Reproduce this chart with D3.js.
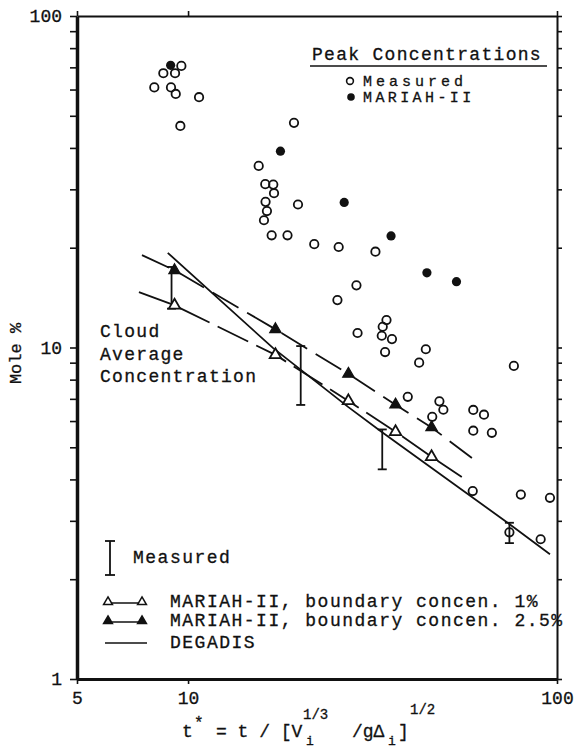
<!DOCTYPE html>
<html>
<head>
<meta charset="utf-8">
<script src="https://cdn.jsdelivr.net/npm/d3@7"></script>
<style>
  html, body { margin: 0; padding: 0; background: #fff; }
  svg { display: block; }
  .lbl { fill: #111; stroke: #111; stroke-width: 0.3;
         font-family: "Liberation Mono", "Courier New", "DejaVu Sans Mono", monospace; }
</style>
</head>
<body>
<svg id="chart" width="578" height="752"></svg>
<script>
// Peak concentrations, measured (open circles): [t*, mole %]
const measuredPeaks = [
  [9.59, 70.7], [8.57, 67.2], [9.22, 67.2], [8.10, 60.9], [8.99, 60.9],
  [9.26, 58.2], [10.71, 56.9], [9.53, 46.6], [19.37, 47.6], [15.54, 35.3],
  [16.19, 31.1], [17.02, 31.0], [17.10, 29.2], [16.22, 27.5], [16.36, 25.8],
  [16.06, 24.2], [19.86, 27.0], [16.85, 21.8], [18.6, 21.8], [21.98, 20.5],
  [25.6, 20.1], [32.2, 19.45], [28.6, 15.4], [25.4, 13.9], [34.5, 12.1],
  [33.7, 11.55], [33.5, 10.85], [35.7, 10.6], [28.8, 11.06], [34.2, 9.69],
  [44.1, 9.88], [42.3, 9.0], [39.4, 7.10], [48.0, 6.88], [49.2, 6.49],
  [45.9, 6.18], [59.3, 6.48], [63.4, 6.27], [59.3, 5.61], [66.6, 5.53],
  [59.1, 3.69], [79.8, 3.60], [95.7, 3.52], [74.3, 2.77], [90.3, 2.64],
  [76.4, 8.80]
];

// Peak concentrations, MARIAH-II (filled circles)
const mariahPeaks = [
  [8.97, 71.0], [17.8, 39.1], [26.5, 27.4], [35.5, 21.7], [44.4, 16.8], [53.4, 15.8]
];

// Cloud average concentration, MARIAH-II (triangles)
const avgT = [9.19, 17.25, 27.2, 36.5, 45.7];
const mariah1 = [13.4, 9.5, 6.9, 5.57, 4.68];     // boundary concen. 1%
const mariah25 = [17.1, 11.35, 8.32, 6.72, 5.74]; // boundary concen. 2.5%
// where the MARIAH-II curves start and stop
const mariah1Ends = [[7.36, 14.7], [55.2, 4.07]];
const mariah25Ends = [[7.5, 19.0], [58.8, 4.64]];

// DEGADIS prediction
const degadis = [
  [8.81, 19.3], [16.98, 9.97], [27.2, 6.61], [33.5, 5.56], [74.1, 2.94], [95.7, 2.38]
];

// measured cloud average (range bars)
const barT = [9.02, 20.2, 33.6, 74.3];
const barLo = [13.1, 6.71, 4.29, 2.57];
const barHi = [17.5, 10.1, 5.66, 2.96];

const xTickValues = [5, 10, 100];
const yTickValues = [1, 2, 3, 4, 5, 6, 7, 8, 9, 10, 20, 30, 40, 50, 60, 70, 80, 90, 100];
const yLabelValues = [1, 10, 100];

const INK = '#111';
const svg = d3.select('#chart');
const margin = { top: 16, right: 21, bottom: 73, left: 77 };
const W = 578, H = 752;

const x = d3.scaleLog().domain([5, 100]).range([margin.left, W - margin.right]);
const y = d3.scaleLog().domain([1, 100]).range([H - margin.bottom, margin.top]);

// axes
function styleAxis(g, w) {
  g.attr('font-family', null);
  g.select('.domain').attr('stroke', INK).attr('stroke-width', w);
  g.selectAll('.tick line').attr('stroke', INK).attr('stroke-width', 1.6);
  g.selectAll('text').attr('class', 'lbl').attr('font-size', 18);
}

svg.append('g')
  .attr('transform', `translate(${margin.left},0)`)
  .call(d3.axisLeft(y).tickValues(yTickValues).tickSizeInner(7).tickSizeOuter(0).tickPadding(8)
    .tickFormat(d => yLabelValues.includes(d) ? d : ''))
  .call(g => styleAxis(g, 3.5));

svg.append('g')
  .attr('transform', `translate(${W - margin.right},0)`)
  .call(d3.axisRight(y).tickValues(yTickValues).tickSizeInner(5).tickSizeOuter(0).tickFormat(''))
  .call(g => styleAxis(g, 2));

svg.append('g')
  .attr('transform', `translate(0,${H - margin.bottom})`)
  .call(d3.axisBottom(x).tickValues(xTickValues).tickSizeInner(5).tickSizeOuter(0).tickPadding(7)
    .tickFormat(d3.format('d')))
  .call(g => styleAxis(g, 3));

svg.append('g')
  .attr('transform', `translate(0,${margin.top})`)
  .call(d3.axisTop(x).tickValues(xTickValues).tickSizeInner(5).tickSizeOuter(0).tickFormat(''))
  .call(g => styleAxis(g, 2));

// axis titles
svg.append('text')
  .attr('class', 'lbl')
  .attr('transform', `translate(21,${y(10) + 6}) rotate(-90)`)
  .attr('text-anchor', 'middle')
  .attr('font-size', 17)
  .text('Mole %');

const xt = svg.append('text').attr('class', 'lbl').attr('font-size', 18);
xt.append('tspan').attr('x', 182).attr('y', 737).text('t');
xt.append('tspan').attr('x', 194).attr('y', 728).attr('font-size', 16).text('*');
xt.append('tspan').attr('x', 216).attr('y', 737).text('= t / [V');
xt.append('tspan').attr('x', 306).attr('y', 745).attr('font-size', 13).text('i');
xt.append('tspan').attr('x', 303).attr('y', 719).attr('font-size', 14).text('1/3');
xt.append('tspan').attr('x', 352).attr('y', 737).text('/g\u0394');
xt.append('tspan').attr('x', 388).attr('y', 745).attr('font-size', 13).text('i');
xt.append('tspan').attr('x', 398).attr('y', 737).text(']');
xt.append('tspan').attr('x', 410).attr('y', 714).attr('font-size', 14).text('1/2');

// curves
const line = d3.line().x(d => x(d[0])).y(d => y(d[1]));

const m1Pts = [mariah1Ends[0], ...avgT.map((t, i) => [t, mariah1[i]]), mariah1Ends[1]];
const m25Pts = [mariah25Ends[0], ...avgT.map((t, i) => [t, mariah25[i]]), mariah25Ends[1]];

svg.append('path').datum(degadis)
  .attr('d', line).attr('fill', 'none').attr('stroke', INK).attr('stroke-width', 1.8);

svg.append('path').datum(m1Pts)
  .attr('d', line).attr('fill', 'none').attr('stroke', INK).attr('stroke-width', 1.8)
  .attr('stroke-dasharray', '34,9');

svg.append('path').datum(m25Pts)
  .attr('d', line).attr('fill', 'none').attr('stroke', INK).attr('stroke-width', 1.8)
  .attr('stroke-dasharray', '30,10');

// measured range bars
const bars = svg.append('g').attr('stroke', INK).attr('stroke-width', 1.8);
barT.forEach((t, i) => {
  bars.append('line').attr('x1', x(t)).attr('x2', x(t)).attr('y1', y(barLo[i])).attr('y2', y(barHi[i]));
  [barLo[i], barHi[i]].forEach(v => {
    bars.append('line').attr('x1', x(t) - 4.5).attr('x2', x(t) + 4.5).attr('y1', y(v)).attr('y2', y(v));
  });
});

// markers
const tri = d3.symbol().type(d3.symbolTriangle).size(56);

svg.append('g').selectAll('path')
  .data(avgT.map((t, i) => [t, mariah1[i]]))
  .join('path')
  .attr('d', tri)
  .attr('transform', d => `translate(${x(d[0])},${y(d[1])})`)
  .attr('fill', '#fff').attr('stroke', INK).attr('stroke-width', 1.8);

svg.append('g').selectAll('path')
  .data(avgT.map((t, i) => [t, mariah25[i]]))
  .join('path')
  .attr('d', tri)
  .attr('transform', d => `translate(${x(d[0])},${y(d[1])})`)
  .attr('fill', INK).attr('stroke', INK).attr('stroke-width', 1.2);

svg.append('g').selectAll('circle')
  .data(measuredPeaks)
  .join('circle')
  .attr('cx', d => x(d[0])).attr('cy', d => y(d[1])).attr('r', 4.2)
  .attr('fill', 'none').attr('stroke', INK).attr('stroke-width', 1.8);

svg.append('g').selectAll('circle')
  .data(mariahPeaks)
  .join('circle')
  .attr('cx', d => x(d[0])).attr('cy', d => y(d[1])).attr('r', 4.6)
  .attr('fill', INK);

// top-right legend
const lg = svg.append('g').attr('font-size', 18);
lg.append('text').attr('class', 'lbl').attr('x', 312).attr('y', 60)
  .attr('letter-spacing', 1.3).text('Peak Concentrations');
lg.append('line').attr('x1', 310).attr('x2', 547).attr('y1', 66).attr('y2', 66)
  .attr('stroke', INK).attr('stroke-width', 1.6);
lg.append('circle').attr('cx', 350).attr('cy', 81).attr('r', 3.4)
  .attr('fill', 'none').attr('stroke', INK).attr('stroke-width', 1.6);
lg.append('circle').attr('cx', 351).attr('cy', 97).attr('r', 3.8).attr('fill', INK);
lg.append('text').attr('class', 'lbl').attr('x', 363).attr('y', 86)
  .attr('font-size', 15).attr('letter-spacing', 4).text('Measured');
lg.append('text').attr('class', 'lbl').attr('x', 363).attr('y', 102)
  .attr('font-size', 15).attr('letter-spacing', 3.4).text('MARIAH-II');

// "Cloud Average Concentration" note
const note = svg.append('text').attr('class', 'lbl').attr('font-size', 18).attr('letter-spacing', 1.3);
['Cloud', 'Average', 'Concentration'].forEach((s, i) => {
  note.append('tspan').attr('x', 100).attr('y', 337 + i * 22.5).text(s);
});

// bottom-left legend
const bl = svg.append('g');
bl.append('line').attr('x1', 110).attr('x2', 110).attr('y1', 541).attr('y2', 575)
  .attr('stroke', INK).attr('stroke-width', 1.8);
[541, 575].forEach(v => bl.append('line').attr('x1', 105).attr('x2', 115).attr('y1', v).attr('y2', v)
  .attr('stroke', INK).attr('stroke-width', 1.8));
bl.append('text').attr('class', 'lbl').attr('font-size', 18).attr('letter-spacing', 1.5)
  .attr('x', 133).attr('y', 563).text('Measured');

const legTri = d3.symbol().type(d3.symbolTriangle).size(34);
const rows = [
  { y: 602, fill: '#fff', text: 'MARIAH-II, boundary concen. 1%' },
  { y: 621, fill: INK, text: 'MARIAH-II, boundary concen. 2.5%' }
];
rows.forEach(r => {
  bl.append('line').attr('x1', 108).attr('x2', 142).attr('y1', r.y + 1).attr('y2', r.y + 1)
    .attr('stroke', INK).attr('stroke-width', 1.6);
  [108, 142].forEach(cx => bl.append('path').attr('d', legTri)
    .attr('transform', `translate(${cx},${r.y})`)
    .attr('fill', r.fill).attr('stroke', INK).attr('stroke-width', 1.5));
  bl.append('text').attr('class', 'lbl').attr('font-size', 18).attr('letter-spacing', 1.5)
    .attr('x', 170).attr('y', r.y + 5).text(r.text);
});
bl.append('line').attr('x1', 105).attr('x2', 147).attr('y1', 643).attr('y2', 643)
  .attr('stroke', INK).attr('stroke-width', 1.6);
bl.append('text').attr('class', 'lbl').attr('font-size', 18).attr('letter-spacing', 1.5)
  .attr('x', 170).attr('y', 648).text('DEGADIS');
</script>
</body>
</html>
